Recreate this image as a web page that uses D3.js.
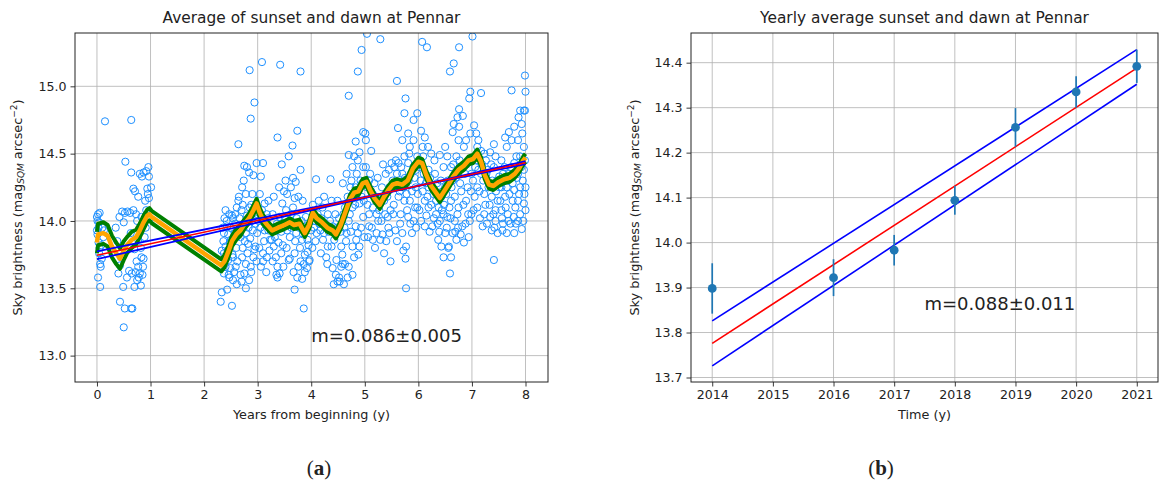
<!DOCTYPE html>
<html>
<head>
<meta charset="utf-8">
<script src="https://cdn.jsdelivr.net/npm/d3@7"></script>
<style>
  body { margin: 0; background: #fff; }
  svg text { font-family: "DejaVu Sans", sans-serif; fill: #222; }
</style>
</head>
<body>
<svg id="fig" width="1162" height="483"></svg>
<script>
// ---- Panel (a): nightly sky brightness, averaged over sunset and dawn ----
// [years from beginning, mag/arcsec^2]
const skyPoints = [
  [0.00,14.03],[0.02,14.05],[0.05,14.06],[0.01,14.00],[0.00,13.93],[0.01,13.90],[0.03,13.84],[0.04,13.76],[0.06,13.68],[0.02,13.58],
  [0.06,13.51],[0.15,14.74],[0.10,13.95],[0.13,13.93],[0.07,13.66],[0.09,13.72],[0.04,13.99],[0.08,13.82],[0.12,13.88],[0.03,13.95],[0.05,13.80],
  [0.42,14.03],[0.52,14.06],[0.47,14.07],[0.57,14.07],[0.62,14.06],[0.53,14.44],[0.40,13.61],[0.43,13.40],[0.52,13.35],[0.64,13.35],
  [0.50,13.21],[0.49,13.51],[0.56,13.58],[0.43,13.67],[0.45,13.73],[0.38,13.85],[0.35,13.95],[0.50,13.99],
  [0.64,14.75],[0.64,14.36],[0.68,14.24],[0.71,14.22],[0.77,14.18],[0.73,14.05],[0.80,14.35],[0.84,14.33],[0.87,14.36],[0.92,14.37],
  [0.96,14.40],[0.97,14.33],[0.94,14.24],[0.90,14.15],[0.95,14.20],[0.66,13.35],[0.70,13.51],[0.75,13.56],[0.80,13.61],[0.82,13.52],
  [0.77,13.66],[0.87,13.72],[0.83,13.73],[0.70,13.79],[0.63,13.91],[0.77,13.86],[0.65,13.61],[0.89,13.88],[0.83,14.03],[0.92,14.08],
  [0.97,14.17],[1.01,14.25],[0.72,13.62],[0.78,13.58],[0.85,13.60],[0.60,13.63],[0.74,13.70],[0.86,13.66],[0.82,13.80],[0.91,13.95],
  [0.68,14.08],[0.75,14.00],[0.98,14.02],
  [2.33,13.47],[2.31,13.40],[2.52,13.37],[2.43,13.49],[2.37,13.61],[2.40,13.66],[2.47,13.58],[2.54,13.56],[2.61,13.53],[2.37,13.76],
  [2.40,13.81],[2.43,13.96],[2.47,14.05],[2.40,14.08],[2.54,14.02],[2.61,14.10],[2.64,14.15],[2.64,14.57],[2.57,13.91],[2.50,13.86],
  [2.45,13.71],[2.37,13.91],[2.54,13.73],[2.59,13.66],
  [2.35,13.95],[2.38,14.02],[2.42,14.00],[2.45,13.90],[2.48,13.84],[2.50,13.95],[2.52,14.04],[2.55,13.88],[2.58,13.98],[2.44,13.78],
  [2.49,13.65],[2.56,13.62],[2.36,13.85],[2.41,13.72],[2.33,13.78],[2.60,13.80],[2.62,13.70],[2.58,14.05],[2.46,13.60],[2.53,13.75],
  [2.85,15.12],[2.87,14.76],[2.94,14.88],[2.75,14.41],[2.84,14.36],[2.92,14.34],[2.98,14.43],[2.78,14.20],[2.71,14.25],[2.85,14.10],
  [2.89,14.00],[2.78,13.91],[2.82,13.83],[2.71,13.73],[2.78,13.68],[2.87,13.66],[2.92,13.73],[2.84,13.56],[2.78,13.50],[2.68,13.60],
  [2.75,13.61],[2.96,13.81],[2.99,13.91],[2.91,13.93],[2.99,14.05],
  [2.66,14.02],[2.70,14.08],[2.74,13.96],[2.80,14.04],[2.83,13.95],[2.88,14.12],[2.93,14.06],[2.96,13.98],[2.68,13.88],[2.72,13.80],
  [2.76,13.85],[2.81,13.76],[2.86,13.87],[2.94,13.79],[2.90,14.20],[2.65,14.18],[2.72,14.12],[2.98,13.70],[2.70,13.55],[2.88,13.62],
  [2.80,14.40],[2.74,14.30],
  [3.08,15.18],[3.42,15.16],[3.37,14.62],[3.10,14.43],[3.06,14.33],[3.13,14.13],[3.17,14.05],[3.20,13.93],[3.26,13.86],[3.30,13.81],
  [3.34,13.73],[3.37,13.66],[3.37,13.58],[3.41,13.61],[3.48,13.66],[3.44,13.76],[3.13,13.93],[3.10,13.76],[3.06,13.66],[3.17,13.73],
  [3.23,13.86],[3.34,13.93],[3.41,14.03],[3.46,14.13],[3.49,14.22],[3.30,14.18],[3.51,14.02],
  [3.02,14.00],[3.05,13.95],[3.08,14.08],[3.12,13.85],[3.15,13.98],[3.19,14.02],[3.22,13.78],[3.25,13.95],[3.28,14.05],[3.32,13.88],
  [3.36,13.98],[3.39,13.84],[3.44,13.92],[3.47,13.82],[3.03,13.80],[3.10,13.70],[3.16,13.62],[3.28,13.70],[3.35,13.60],[3.04,14.20],
  [3.20,14.15],[3.40,14.25],[3.45,14.42],
  [3.80,15.11],[3.74,14.67],[3.65,14.56],[3.58,14.48],[3.80,14.38],[3.71,14.29],[3.62,14.25],[3.55,14.20],[3.69,14.17],[3.76,14.18],
  [3.84,14.15],[3.62,14.05],[3.55,13.93],[3.72,13.91],[3.83,13.86],[3.69,13.76],[3.58,13.71],[3.76,13.66],[3.86,13.68],[3.83,13.57],
  [3.69,13.49],[3.86,13.35],[3.93,13.77],[3.97,13.71],[3.93,13.86],[3.90,14.03],[4.00,13.93],[3.90,13.96],
  [3.53,14.08],[3.57,13.98],[3.60,13.88],[3.63,13.95],[3.66,14.10],[3.70,13.85],[3.73,14.02],[3.77,13.95],[3.79,13.80],[3.82,14.00],
  [3.85,13.90],[3.88,13.75],[3.92,13.65],[3.95,13.82],[3.54,13.80],[3.60,13.72],[3.67,13.62],[3.74,13.58],[3.80,13.70],[3.88,13.62],
  [3.96,13.70],[3.52,14.30],[3.66,14.32],
  [4.09,14.31],[4.36,14.31],[4.14,14.15],[4.24,14.18],[4.31,14.05],[4.38,14.15],[4.17,13.93],[4.24,13.91],[4.31,13.81],[4.28,13.73],
  [4.38,13.81],[4.45,13.91],[4.47,13.71],[4.42,13.53],[4.49,13.55],[4.52,13.58],[4.56,13.66],[4.59,13.68],[4.45,14.05],[4.49,14.15],
  [4.07,14.00],[4.10,13.91],[4.21,14.10],
  [4.03,14.12],[4.05,13.95],[4.12,14.05],[4.15,13.98],[4.19,14.02],[4.22,13.86],[4.26,13.98],[4.33,13.92],[4.35,14.00],[4.40,13.96],
  [4.43,13.86],[4.48,13.95],[4.02,13.80],[4.08,13.85],[4.18,13.76],[4.40,13.65],[4.46,13.60],[4.30,13.68],
  [4.70,14.93],[4.87,15.11],[4.94,15.27],[4.83,14.59],[4.97,14.66],[4.90,14.51],[4.80,14.48],[4.70,14.49],[4.77,14.40],[4.87,14.45],
  [4.97,14.40],[4.66,14.35],[4.59,14.28],[4.73,14.25],[4.83,14.25],[4.94,14.18],[4.63,14.10],[4.77,14.10],[4.90,14.13],[4.70,14.00],
  [4.83,13.96],[4.97,14.03],[4.66,13.91],[4.77,13.81],[4.90,13.81],[4.80,13.73],[4.70,13.66],[4.77,13.60],[4.63,13.68],[4.56,13.81],
  [4.87,13.91],
  [4.52,14.02],[4.55,13.92],[4.60,14.05],[4.62,13.95],[4.68,14.18],[4.72,14.05],[4.75,14.30],[4.78,14.20],[4.82,14.12],[4.85,14.35],
  [4.88,14.22],[4.92,14.30],[4.95,14.28],[4.98,14.15],[4.65,13.85],[4.74,13.92],[4.84,13.86],[4.93,13.95],[4.58,13.75],[4.88,13.75],
  [4.99,13.88],[4.68,13.58],[4.53,13.55],[4.61,13.53],
  [5.04,15.39],[5.29,15.35],[5.01,14.65],[5.04,14.25],[5.15,14.10],[5.22,14.05],[5.29,14.13],[5.32,14.25],[5.39,14.35],[5.50,14.43],
  [5.46,14.25],[5.36,14.15],[5.22,13.91],[5.15,13.86],[5.29,13.86],[5.36,13.76],[5.25,14.00],[5.43,14.03],[5.46,13.91],[5.48,13.70],
  [5.08,13.96],[5.15,14.20],[5.08,14.30],
  [5.02,14.40],[5.05,14.12],[5.08,14.05],[5.10,14.35],[5.12,14.22],[5.18,14.28],[5.20,14.18],[5.24,14.32],[5.27,14.08],[5.31,14.00],
  [5.34,14.42],[5.38,14.05],[5.42,14.18],[5.45,14.38],[5.48,14.08],[5.06,13.88],[5.13,13.95],[5.19,13.80],[5.33,13.90],[5.40,13.85],
  [5.44,13.95],[5.02,14.60],[5.12,14.52],
  [5.60,15.04],[5.76,14.91],[5.62,14.69],[5.74,14.80],[5.70,14.60],[5.81,14.65],[5.91,14.75],[5.98,14.80],[5.91,14.60],[5.84,14.55],
  [5.74,14.48],[5.63,14.43],[5.60,14.35],[5.70,14.35],[5.81,14.43],[5.91,14.40],[5.98,14.48],[5.57,14.25],[5.63,14.18],[5.74,14.15],
  [5.84,14.15],[5.95,14.25],[5.53,14.05],[5.67,14.05],[5.81,14.03],[5.91,14.00],[5.70,13.91],[5.77,13.81],[5.76,13.72],[5.77,13.50],
  [5.57,13.93],[5.88,13.91],[5.98,14.10],
  [5.52,14.30],[5.55,14.40],[5.58,14.45],[5.62,14.28],[5.65,14.22],[5.68,14.40],[5.72,14.25],[5.75,14.32],[5.78,14.20],[5.82,14.30],
  [5.86,14.35],[5.88,14.22],[5.93,14.32],[5.96,14.38],[5.99,14.20],[5.54,14.12],[5.66,13.98],[5.79,14.08],[5.94,14.10],[5.85,13.98],
  [5.60,13.85],[5.72,13.78],[5.96,13.95],[5.83,14.50],
  [6.07,15.33],[6.16,15.29],[6.05,14.67],[6.12,14.62],[6.18,14.55],[6.09,14.48],[6.19,14.38],[6.30,14.45],[6.40,14.49],[6.47,14.40],
  [6.50,14.55],[6.54,14.48],[6.26,14.25],[6.33,14.15],[6.43,14.18],[6.50,14.25],[6.19,14.10],[6.33,14.05],[6.47,14.05],[6.12,13.96],
  [6.26,13.96],[6.40,14.00],[6.54,14.03],[6.50,13.91],[6.43,13.81],[6.47,13.73],[6.37,13.86],[6.05,14.00],[6.12,14.15],[6.19,14.25],
  [6.02,14.40],[6.04,14.30],[6.08,14.22],[6.10,14.35],[6.14,14.28],[6.17,14.18],[6.22,14.32],[6.24,14.12],[6.28,14.20],[6.31,14.35],
  [6.35,14.28],[6.38,14.10],[6.42,14.30],[6.45,14.22],[6.48,14.12],[6.02,14.08],[6.15,14.04],[6.21,13.92],[6.29,14.02],[6.36,13.98],
  [6.44,14.08],[6.39,13.92],[6.08,14.55],[6.24,14.50],
  [6.59,15.11],[6.66,15.17],[6.76,15.29],[6.97,14.96],[6.95,14.91],[6.76,14.83],[6.73,14.77],[6.83,14.78],[6.66,14.72],[6.64,14.66],
  [6.76,14.70],[6.85,14.55],[6.75,14.60],[6.89,14.60],[6.97,14.65],[6.71,14.48],[6.82,14.40],[6.61,14.40],[6.64,14.30],[6.78,14.28],
  [6.92,14.25],[6.99,14.35],[6.61,14.15],[6.75,14.10],[6.89,14.15],[6.99,14.05],[6.68,14.00],[6.82,13.96],[6.64,13.91],[6.71,13.86],
  [6.85,13.84],[6.57,13.81],[6.61,13.73],[6.59,13.61],[6.96,14.00],
  [6.52,14.20],[6.55,14.30],[6.58,14.10],[6.62,14.25],[6.65,14.42],[6.68,14.18],[6.70,14.32],[6.73,14.05],[6.77,14.45],[6.80,14.22],
  [6.84,14.12],[6.87,14.35],[6.90,14.42],[6.93,14.05],[6.98,14.22],[6.53,13.95],[6.60,14.02],[6.69,13.92],[6.79,13.90],[6.88,13.98],
  [6.94,13.88],[6.56,13.80],[6.74,13.95],
  [7.01,15.37],[7.17,14.95],[7.04,14.71],[7.08,14.65],[7.10,14.55],[7.17,14.52],[7.23,14.50],[7.41,14.57],[7.34,14.51],[7.44,14.48],
  [7.06,14.40],[7.17,14.35],[7.30,14.38],[7.41,14.40],[7.51,14.33],[7.10,14.25],[7.23,14.20],[7.37,14.18],[7.48,14.15],[7.10,14.10],
  [7.23,14.05],[7.34,14.03],[7.44,14.08],[7.20,13.96],[7.37,13.93],[7.44,14.00],[7.48,13.91],[7.41,13.71],[7.51,14.25],
  [7.02,14.30],[7.05,14.18],[7.08,14.45],[7.12,14.38],[7.14,14.22],[7.19,14.42],[7.21,14.30],[7.25,14.12],[7.27,14.35],[7.31,14.25],
  [7.33,14.12],[7.38,14.30],[7.40,14.05],[7.45,14.22],[7.47,14.30],[7.03,14.08],[7.15,14.02],[7.28,13.98],[7.42,13.95],[7.12,14.60],
  [7.26,14.45],[7.36,14.42],
  [7.74,14.97],[7.99,15.08],[8.00,14.96],[7.90,14.82],[7.87,14.77],[7.97,14.82],[7.93,14.72],[7.79,14.70],[7.69,14.66],[7.62,14.62],
  [7.74,14.60],[7.86,14.60],[7.97,14.55],[7.65,14.55],[7.55,14.45],[7.79,14.43],[7.90,14.48],[7.58,14.35],[7.69,14.35],[7.86,14.35],
  [7.97,14.38],[7.55,14.25],[7.65,14.25],[7.79,14.23],[7.90,14.25],[8.00,14.25],[7.62,14.18],[7.76,14.15],[7.86,14.15],[7.97,14.13],
  [7.55,14.08],[7.67,14.05],[7.78,14.03],[7.90,14.05],[8.00,14.08],[7.58,13.98],[7.72,13.98],[7.86,14.00],[7.93,13.94],[7.79,13.91],
  [7.65,13.91],[7.57,13.93],
  [7.53,14.15],[7.60,14.30],[7.63,14.10],[7.70,14.20],[7.73,14.40],[7.76,14.28],[7.81,14.10],[7.84,14.32],[7.88,14.20],[7.92,14.40],
  [7.95,14.30],[7.98,14.20],[7.99,14.45],[7.56,14.02],[7.68,14.00],[7.82,13.98],[7.96,14.00],[7.61,14.40],[7.83,14.48],[7.94,14.65],
  [7.99,14.82]
];

// Running mean (orange) and the half-width of its envelope (green)
const maYears  = [0.00,0.02,0.12,0.20,0.28,0.36,0.43,0.50,0.56,0.65,0.73,0.80,0.87,0.94,0.98,1.02,2.32,2.38,2.45,2.52,
                  2.60,2.68,2.76,2.84,2.92,2.98,3.04,3.10,3.18,3.27,3.38,3.50,3.60,3.68,3.78,3.88,3.96,4.03,4.10,4.20,
                  4.30,4.40,4.46,4.55,4.65,4.72,4.80,4.88,4.96,5.03,5.10,5.18,5.28,5.36,5.44,5.52,5.60,5.70,5.80,5.90,
                  6.00,6.07,6.15,6.24,6.33,6.40,6.48,6.56,6.65,6.75,6.85,6.94,7.02,7.10,7.17,7.24,7.32,7.40,7.50,7.60,
                  7.70,7.80,7.88,7.96,8.00];
const maValues = [13.84,13.90,13.91,13.89,13.81,13.76,13.72,13.78,13.82,13.86,13.88,13.93,13.99,14.04,14.05,14.03,13.67,13.70,13.77,13.85,
                  13.90,13.93,13.98,14.02,14.08,14.13,14.06,14.01,13.97,13.93,13.95,13.97,13.99,13.97,13.98,13.91,13.97,14.06,14.02,13.99,
                  13.95,13.93,13.90,13.97,14.08,14.16,14.21,14.22,14.28,14.29,14.23,14.17,14.12,14.18,14.23,14.27,14.28,14.27,14.30,14.39,
                  14.44,14.43,14.34,14.26,14.21,14.17,14.22,14.27,14.33,14.38,14.41,14.45,14.46,14.50,14.44,14.34,14.27,14.26,14.29,14.31,
                  14.32,14.35,14.39,14.45,14.47];
const maSpread = [0.08,0.08,0.08,0.08,0.08,0.08,0.075,0.07,0.06,0.06,0.055,0.05,0.05,0.045,0.045,0.045,0.045,0.045,0.045,0.04,
                  0.04,0.04,0.035,0.035,0.035,0.035,0.035,0.035,0.03,0.03,0.03,0.03,0.03,0.03,0.03,0.03,0.03,0.03,0.03,0.03,
                  0.03,0.03,0.03,0.03,0.03,0.03,0.03,0.03,0.03,0.03,0.03,0.03,0.03,0.03,0.03,0.03,0.03,0.03,0.03,0.03,
                  0.03,0.03,0.03,0.03,0.03,0.03,0.03,0.03,0.03,0.03,0.03,0.03,0.03,0.03,0.03,0.03,0.03,0.03,0.03,0.03,
                  0.03,0.03,0.03,0.03,0.03];

// Linear fit: intercept, slope and their uncertainties
const nightlyFit = [13.745, 0.086];
const nightlyFitErr = [0.029, 0.005];
const nightlyXTicks = [0, 1, 2, 3, 4, 5, 6, 7, 8];
const nightlyYTicks = [13.0, 13.5, 14.0, 14.5, 15.0];

// ---- Panel (b): yearly means ----
const yearlyYears  = [2014, 2016, 2017, 2018, 2019, 2020, 2021];
const yearlyMeans  = [13.898, 13.922, 13.983, 14.094, 14.256, 14.335, 14.392];
const yearlyErrors = [0.056, 0.041, 0.034, 0.032, 0.043, 0.035, 0.037];
// fit line and its two bounding lines, value at 2014 and at 2021
const yearlyFitAt2014 = [13.776, 13.826, 13.726];
const yearlyFitAt2021 = [14.388, 14.429, 14.352];
const yearlyXTicks = [2014, 2015, 2016, 2017, 2018, 2019, 2020, 2021];
const yearlyYTicks = [13.7, 13.8, 13.9, 14.0, 14.1, 14.2, 14.3, 14.4];

const svg = d3.select("#fig");
const plotTop = 33, plotBottom = 382;
const tickFont = 12.6, labelFont = 12.8, titleFont = 15.4;

function frame(g, x, y, xTicks, yTicks, xFmt, yFmt) {
  const [x0, x1] = x.range();
  // grid
  g.append("g").selectAll("line").data(xTicks).join("line")
    .attr("x1", d => x(d)).attr("x2", d => x(d)).attr("y1", plotTop).attr("y2", plotBottom)
    .attr("stroke", "#b0b0b0").attr("stroke-width", 0.8);
  g.append("g").selectAll("line").data(yTicks).join("line")
    .attr("x1", x0).attr("x2", x1).attr("y1", d => y(d)).attr("y2", d => y(d))
    .attr("stroke", "#b0b0b0").attr("stroke-width", 0.8);
  // axes
  const ax = g.append("g").attr("transform", `translate(0,${plotBottom})`)
    .call(d3.axisBottom(x).tickValues(xTicks).tickFormat(xFmt).tickSize(4.5).tickPadding(4));
  const ay = g.append("g").attr("transform", `translate(${x0},0)`)
    .call(d3.axisLeft(y).tickValues(yTicks).tickFormat(yFmt).tickSize(4.5).tickPadding(4));
  [ax, ay].forEach(a => {
    a.select(".domain").remove();
    a.selectAll("line").attr("stroke", "#222").attr("stroke-width", 0.9);
    a.selectAll("text").attr("font-size", tickFont).attr("font-family", "DejaVu Sans").attr("fill", "#222");
  });
}

function border(g, x) {
  const [x0, x1] = x.range();
  g.append("rect").attr("x", x0).attr("y", plotTop).attr("width", x1 - x0).attr("height", plotBottom - plotTop)
    .attr("fill", "none").attr("stroke", "#222").attr("stroke-width", 1);
}

function yLabel(g, cx) {
  const t = g.append("text").attr("transform", `translate(${cx},${(plotTop + plotBottom) / 2}) rotate(-90)`)
    .attr("text-anchor", "middle").attr("dominant-baseline", "middle").attr("font-size", labelFont);
  t.append("tspan").text("Sky brightness (mag");
  t.append("tspan").attr("dy", 3).attr("font-size", 9).attr("font-style", "italic").text("SQM");
  t.append("tspan").attr("dy", -3).text(" arcsec");
  t.append("tspan").attr("dy", -4.5).attr("font-size", 9).text("\u22122");
  t.append("tspan").attr("dy", 4.5).text(")");
}

// ---------- panel (a) ----------
{
  const x = d3.scaleLinear().domain([-0.41, 8.42]).range([75, 548]);
  const y = d3.scaleLinear().domain([12.804, 15.396]).range([plotBottom, plotTop]);
  const [x0, x1] = x.range();
  const g = svg.append("g");
  frame(g, x, y, nightlyXTicks, nightlyYTicks, d3.format("d"), d3.format(".1f"));

  svg.append("clipPath").attr("id", "clipA").append("rect")
    .attr("x", x0).attr("y", plotTop).attr("width", x1 - x0).attr("height", plotBottom - plotTop);
  const plot = g.append("g").attr("clip-path", "url(#clipA)");

  plot.append("g").selectAll("circle").data(skyPoints).join("circle")
    .attr("cx", d => x(d[0])).attr("cy", d => y(d[1])).attr("r", 3.6)
    .attr("fill", "none").attr("stroke", "#1e90ff").attr("stroke-width", 1);

  const idx = d3.range(maYears.length);
  const band = s => d3.line().x(i => x(maYears[i])).y(i => y(maValues[i] + s * maSpread[i]));
  [1, -1].forEach(s => plot.append("path").attr("d", band(s)(idx))
    .attr("fill", "none").attr("stroke", "green").attr("stroke-width", 4).attr("stroke-linejoin", "round"));
  plot.append("path").attr("d", band(0)(idx))
    .attr("fill", "none").attr("stroke", "orange").attr("stroke-width", 4.5).attr("stroke-linejoin", "round");

  const [a, b] = nightlyFit, [da, db] = nightlyFitErr;
  const fits = [
    { p: [a + da, b - db], c: "blue", w: 1.8 },
    { p: [a - da, b + db], c: "blue", w: 1.8 },
    { p: [a, b], c: "red", w: 1.5 }
  ];
  const xs = [0, 8];
  fits.forEach(f => plot.append("line")
    .attr("x1", x(xs[0])).attr("y1", y(f.p[0] + f.p[1] * xs[0]))
    .attr("x2", x(xs[1])).attr("y2", y(f.p[0] + f.p[1] * xs[1]))
    .attr("stroke", f.c).attr("stroke-width", f.w));

  border(g, x);
  g.append("text").attr("x", (x0 + x1) / 2).attr("y", 23).attr("text-anchor", "middle")
    .attr("font-size", titleFont).text("Average of sunset and dawn at Pennar");
  g.append("text").attr("x", (x0 + x1) / 2).attr("y", 419).attr("text-anchor", "middle")
    .attr("font-size", labelFont).text("Years from beginning (y)");
  yLabel(g, 18);
  g.append("text").attr("x", x(4.0)).attr("y", y(13.1)).attr("font-size", 18)
    .text(`m=${nightlyFit[1].toFixed(3)}\u00b1${nightlyFitErr[1].toFixed(3)}`);
}

// ---------- panel (b) ----------
{
  const x = d3.scaleLinear().domain([2013.65, 2021.35]).range([691, 1158]);
  const y = d3.scaleLinear().domain([13.690, 14.466]).range([plotBottom, plotTop]);
  const [x0, x1] = x.range();
  const g = svg.append("g");
  frame(g, x, y, yearlyXTicks, yearlyYTicks, d3.format("d"), d3.format(".1f"));

  const colors = ["red", "blue", "blue"];
  yearlyFitAt2014.forEach((v, i) => g.append("line")
    .attr("x1", x(2014)).attr("y1", y(v)).attr("x2", x(2021)).attr("y2", y(yearlyFitAt2021[i]))
    .attr("stroke", colors[i]).attr("stroke-width", 1.6));

  g.append("g").selectAll("line").data(yearlyYears).join("line")
    .attr("x1", d => x(d)).attr("x2", d => x(d))
    .attr("y1", (d, i) => y(yearlyMeans[i] - yearlyErrors[i]))
    .attr("y2", (d, i) => y(yearlyMeans[i] + yearlyErrors[i]))
    .attr("stroke", "#1f77b4").attr("stroke-width", 1.7);
  g.append("g").selectAll("circle").data(yearlyYears).join("circle")
    .attr("cx", d => x(d)).attr("cy", (d, i) => y(yearlyMeans[i])).attr("r", 4.4)
    .attr("fill", "#1f77b4");

  border(g, x);
  g.append("text").attr("x", (x0 + x1) / 2).attr("y", 23).attr("text-anchor", "middle")
    .attr("font-size", titleFont).text("Yearly average sunset and dawn at Pennar");
  g.append("text").attr("x", (x0 + x1) / 2).attr("y", 419).attr("text-anchor", "middle")
    .attr("font-size", labelFont).text("Time (y)");
  yLabel(g, 635);
  g.append("text").attr("x", x(2017.5)).attr("y", y(13.85)).attr("font-size", 18)
    .text("m=0.088\u00b10.011");
}

// ---------- sub-figure captions ----------
[["a", 319], ["b", 881]].forEach(([letter, cx]) => {
  const t = svg.append("text").attr("x", cx).attr("y", 475).attr("text-anchor", "middle")
    .style("font-family", "'Liberation Serif', 'DejaVu Serif', serif").attr("font-size", 21).attr("fill", "#000");
  t.append("tspan").text("(");
  t.append("tspan").attr("font-weight", "bold").text(letter);
  t.append("tspan").text(")");
});
</script>
</body>
</html>
